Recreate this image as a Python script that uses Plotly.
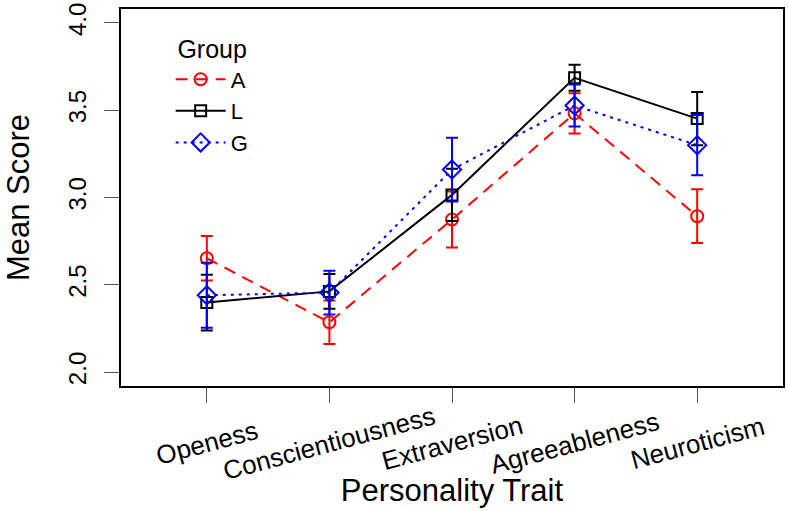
import plotly.graph_objects as go

traits = ["Openess", "Conscientiousness", "Extraversion", "Agreeableness", "Neuroticism"]
groups = ["A", "L", "G"]

mean_A = [2.652, 2.285, 2.874, 3.482, 2.893]
err_A = [0.128, 0.125, 0.160, 0.115, 0.154]
mean_L = [2.398, 2.462, 3.015, 3.686, 3.452]
err_L = [0.160, 0.100, 0.150, 0.075, 0.152]
mean_G = [2.440, 2.455, 3.160, 3.527, 3.300]
err_G = [0.186, 0.125, 0.183, 0.120, 0.172]

y_ticks = [2.0, 2.5, 3.0, 3.5, 4.0]

FONT = "Liberation Sans, Arial, sans-serif"
xpos = list(range(1, len(traits) + 1))

styles = {
    "A": dict(color="#FF0000", dash="12px,8px", symbol="circle-open", size=12),
    "L": dict(color="#000000", dash="solid", symbol="square-open", size=11),
    "G": dict(color="#0000FF", dash="3px,5px", symbol="diamond-open", size=14),
}
data = {"A": (mean_A, err_A), "L": (mean_L, err_L), "G": (mean_G, err_G)}

fig = go.Figure()
for g in groups:
    m, e = data[g]
    s = styles[g]
    fig.add_trace(go.Scatter(
        x=xpos, y=m, name=g, mode="lines+markers",
        line=dict(color=s["color"], width=2, dash=s["dash"]),
        marker=dict(symbol=s["symbol"], size=s["size"], color=s["color"],
                    line=dict(color=s["color"], width=2)),
        error_y=dict(type="data", array=e, visible=True, color=s["color"],
                     thickness=2, width=6),
    ))

for i, t in enumerate(traits):
    fig.add_annotation(x=xpos[i], y=0, xref="x", yref="paper", text=t,
                       showarrow=False, textangle=-15, xanchor="center",
                       yanchor="middle", yshift=-57,
                       font=dict(family=FONT, size=26, color="black"))

fig.update_layout(
    width=788, height=511,
    margin=dict(l=121, r=3, t=4, b=125),
    paper_bgcolor="white", plot_bgcolor="white",
    font=dict(family=FONT, color="black"),
    showlegend=True,
    legend=dict(x=0.075, y=0.955, xanchor="left", yanchor="top",
                bgcolor="rgba(0,0,0,0)", itemwidth=50,
                title=dict(text="Group", side="top center",
                           font=dict(family=FONT, size=25)),
                font=dict(family=FONT, size=22), tracegroupgap=0),
    xaxis=dict(range=[0.3, 5.7], tickvals=xpos, showticklabels=False,
               ticks="outside", ticklen=15, tickcolor="#555555", tickwidth=1,
               showline=True, linecolor="black", linewidth=2, mirror=True,
               showgrid=False, zeroline=False,
               title=dict(text="Personality Trait", standoff=77,
                          font=dict(family=FONT, size=31))),
    yaxis=dict(range=[1.92, 4.08], tickvals=y_ticks,
               ticktext=[f"{v:.1f}" for v in y_ticks], tickangle=-90,
               ticks="outside", ticklen=15, tickcolor="#555555", tickwidth=1,
               ticklabelstandoff=8, ticklabeloverflow="allow",
               tickfont=dict(family=FONT, size=24),
               showline=True, linecolor="black", linewidth=2, mirror=True,
               showgrid=False, zeroline=False,
               title=dict(text="Mean Score", standoff=26,
                          font=dict(family=FONT, size=31))),
)

fig.write_html("out.html")
